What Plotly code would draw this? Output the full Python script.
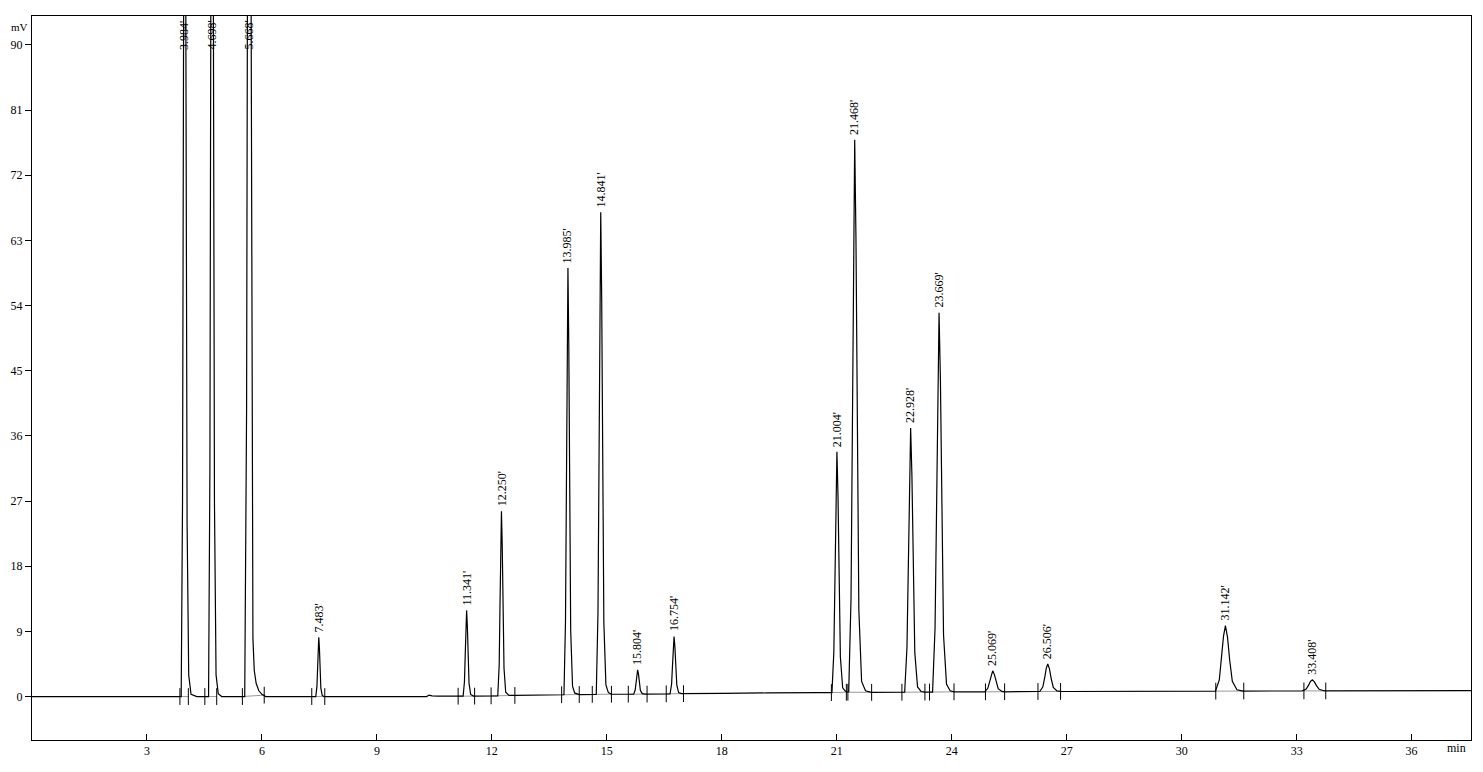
"""Chromatogram (mV vs min) redrawn with Plotly."""
import plotly.graph_objects as go

# detector trace (min, mV)
trace_t = [
    0.0, 3.86, 3.893, 3.928, 3.949, 3.984, 4.022, 4.047, 4.089, 4.15, 4.3,
    4.607, 4.642, 4.663, 4.698, 4.737, 4.761, 4.803, 4.86, 4.95,
    5.551, 5.60, 5.63, 5.668, 5.71, 5.745, 5.765, 5.80, 5.85, 5.92, 6.00, 6.10,
    7.405, 7.435, 7.453, 7.468, 7.483, 7.50, 7.516, 7.537, 7.573, 7.62,
    10.3, 10.36, 10.44, 10.6,
    11.25, 11.285, 11.306, 11.324, 11.341, 11.36, 11.38, 11.404, 11.446, 11.52,
    12.154, 12.191, 12.213, 12.232, 12.25, 12.27, 12.291, 12.317, 12.361, 12.45, 12.6,
    13.0, 13.6,
    13.881, 13.921, 13.945, 13.965, 13.985, 14.007, 14.029, 14.057, 14.105, 14.16, 14.28,
    14.724, 14.769, 14.796, 14.818, 14.841, 14.866, 14.891, 14.922, 14.976, 15.04, 15.12,
    15.70, 15.74, 15.764, 15.784, 15.804, 15.826, 15.848, 15.876, 15.924, 16.0,
    16.65, 16.69, 16.714, 16.734, 16.754, 16.776, 16.798, 16.826, 16.874, 16.95,
    18.0, 18.6, 19.2, 20.5,
    20.874, 20.924, 20.954, 20.979, 21.004, 21.032, 21.059, 21.094, 21.154, 21.22, 21.27,
    21.312, 21.372, 21.408, 21.438, 21.468, 21.501, 21.534, 21.576, 21.648, 21.75, 21.9,
    22.772, 22.832, 22.868, 22.898, 22.928, 22.961, 22.994, 23.036, 23.108, 23.2, 23.3,
    23.5, 23.565, 23.604, 23.637, 23.669, 23.705, 23.741, 23.786, 23.864, 23.96, 24.06,
    24.861, 24.941, 24.989, 25.029, 25.069, 25.113, 25.157, 25.213, 25.309, 25.38,
    26.298, 26.378, 26.426, 26.466, 26.506, 26.55, 26.594, 26.65, 26.746, 26.84,
    27.0,
    30.882, 30.982, 31.042, 31.092, 31.142, 31.197, 31.252, 31.322, 31.442, 31.6,
    33.148, 33.248, 33.308, 33.358, 33.408, 33.463, 33.518, 33.588, 33.708, 33.76,
    37.55,
]
trace_mv = [
    0.0, 0.0, 0.0, 27, 80, 160, 77, 24, 3, 0.3, 0.0,
    0.0, 31, 90, 180, 86, 27, 3, 0.4, 0.0,
    0.0, 40, 120, 220, 110, 36, 8, 3.6, 1.8, 0.8, 0.3, 0.0,
    0.0, 1.4, 4.1, 6.9, 8.2, 6.7, 3.9, 1.2, 0.16, 0.0,
    0.0, 0.2, 0.1, 0.05,
    0.05, 2.07, 5.98, 10.0, 11.9, 9.77, 5.74, 1.83, 0.29, 0.07,
    0.1, 4.4, 12.85, 21.5, 25.6, 21.0, 12.3, 3.9, 0.6, 0.15, 0.15,
    0.2, 0.25,
    0.25, 10.27, 29.7, 49.8, 59.2, 48.6, 28.6, 9.1, 1.43, 0.5, 0.28,
    0.3, 11.6, 33.6, 56.2, 66.9, 54.9, 32.3, 10.3, 1.6, 0.55, 0.32,
    0.33, 0.9, 2.02, 3.16, 3.7, 3.09, 1.95, 0.84, 0.4, 0.34,
    0.38, 1.73, 4.34, 7.03, 8.3, 6.87, 4.18, 1.57, 0.54, 0.4,
    0.45, 0.5, 0.5, 0.55,
    0.55, 6.2, 17.2, 28.5, 33.8, 27.8, 16.5, 5.5, 1.2, 0.75, 0.6,
    0.65, 13.5, 38.7, 64.7, 76.9, 63.2, 37.2, 12.0, 2.1, 0.8, 0.58,
    0.6, 6.8, 18.85, 31.3, 37.1, 30.5, 18.1, 6.1, 1.33, 0.7, 0.62,
    0.62, 9.5, 26.8, 44.6, 53.0, 43.6, 25.8, 8.5, 1.7, 0.8, 0.65,
    0.65, 1.14, 2.1, 3.09, 3.55, 3.03, 2.04, 1.09, 0.71, 0.66,
    0.7, 1.35, 2.6, 3.89, 4.5, 3.82, 2.52, 1.27, 0.78, 0.71,
    0.7,
    0.75, 2.29, 5.28, 8.35, 9.8, 8.17, 5.09, 2.11, 0.93, 0.76,
    0.78, 1.04, 1.54, 2.06, 2.3, 2.03, 1.51, 1.01, 0.81, 0.78,
    0.82,
]

# labelled peaks: retention time and apex height (off-scale peaks read as 94)
peak_rt = [3.984, 4.698, 5.668, 7.483, 11.341, 12.250, 13.985, 14.841, 15.804,
           16.754, 21.004, 21.468, 22.928, 23.669, 25.069, 26.506, 31.142, 33.408]
peak_top = [94, 94, 94, 8.2, 11.9, 25.6, 59.2, 66.9, 3.7,
            8.3, 33.8, 76.9, 37.1, 53.0, 3.55, 4.5, 9.8, 2.3]

# integration start / end marks (min, mV), in pairs
mark_t = [3.86, 4.08, 4.51, 4.82, 5.49, 6.06, 7.30, 7.64, 11.12, 11.55,
          11.98, 12.60, 13.82, 14.28, 14.62, 15.12, 15.56, 16.05, 16.55, 17.00,
          20.86, 21.25, 21.29, 21.91, 22.70, 23.30, 23.42, 24.06, 24.88, 25.38,
          26.25, 26.84, 30.89, 31.62, 33.19, 33.76]
mark_mv = [0.0, 0.0, 0.0, 0.0, 0.0, 0.2, 0.0, 0.0, 0.05, 0.06,
           0.1, 0.15, 0.25, 0.28, 0.3, 0.32, 0.33, 0.34, 0.38, 0.4,
           0.55, 0.6, 0.6, 0.58, 0.6, 0.62, 0.62, 0.65, 0.65, 0.66,
           0.7, 0.71, 0.75, 0.76, 0.78, 0.78]

x_ticks = [3, 6, 9, 12, 15, 18, 21, 24, 27, 30, 33, 36]
y_ticks = [0, 9, 18, 27, 36, 45, 54, 63, 72, 81, 90]

FONT = 'Liberation Serif'

fig = go.Figure()

# grey integration baselines between each start/end pair
base_x, base_y = [], []
for i in range(0, len(mark_t), 2):
    base_x += [mark_t[i], mark_t[i + 1], None]
    base_y += [mark_mv[i], mark_mv[i + 1], None]
fig.add_trace(go.Scatter(x=base_x, y=base_y, mode='lines',
                         line=dict(color='#9a9a9a', width=1),
                         hoverinfo='skip', showlegend=False))

fig.add_trace(go.Scatter(x=trace_t, y=trace_mv, mode='lines',
                         line=dict(color='black', width=1.2),
                         showlegend=False))

fig.add_trace(go.Scatter(x=mark_t, y=mark_mv, mode='markers',
                         marker=dict(symbol='line-ns', size=12,
                                     line=dict(color='black', width=1)),
                         hoverinfo='skip', showlegend=False))

for rt, top in zip(peak_rt, peak_top):
    off_scale = top >= 90
    fig.add_annotation(
        x=rt, y=93.6 if off_scale else top,
        text=f"{rt:.3f}'", textangle=-90, showarrow=False,
        xanchor='center', yanchor='top' if off_scale else 'bottom',
        yshift=0 if off_scale else 3,
        font=dict(family=FONT, size=12, color='black'))

# unit labels
fig.add_annotation(x=-0.016, y=1.0, xref='paper', yref='paper', text='mV',
                   showarrow=False, xanchor='left', yanchor='middle', yshift=-11,
                   font=dict(family=FONT, size=11, color='black'))
fig.add_annotation(x=0.998, y=0, xref='paper', yref='paper', text='min',
                   showarrow=False, xanchor='right', yanchor='middle', yshift=-8,
                   font=dict(family=FONT, size=12, color='black'))

# small mark beyond the right frame
fig.add_shape(type='line', xref='paper', yref='paper',
              x0=1.0076, x1=1.0076, y0=0.548, y1=0.604,
              line=dict(color='black', width=1))

# the page adds an 8px body margin, so the figure is 8px smaller and margins 8px less
fig.update_layout(
    width=1475, height=764,
    margin=dict(l=24, r=12, t=8, b=32),
    plot_bgcolor='white', paper_bgcolor='white',
    font=dict(family=FONT, size=12, color='black'),
    xaxis=dict(range=[0, 37.55], tickvals=x_ticks, ticks='inside', ticklen=6,
               tickcolor='black', showgrid=False, zeroline=False, automargin=False,
               showline=True, linecolor='black', linewidth=1, mirror=True),
    yaxis=dict(range=[-6, 94], tickvals=y_ticks, ticks='outside', ticklen=6,
               tickcolor='black', showgrid=False, zeroline=False, automargin=False,
               showline=True, linecolor='black', linewidth=1, mirror=True),
)

fig.write_html("out.html")
